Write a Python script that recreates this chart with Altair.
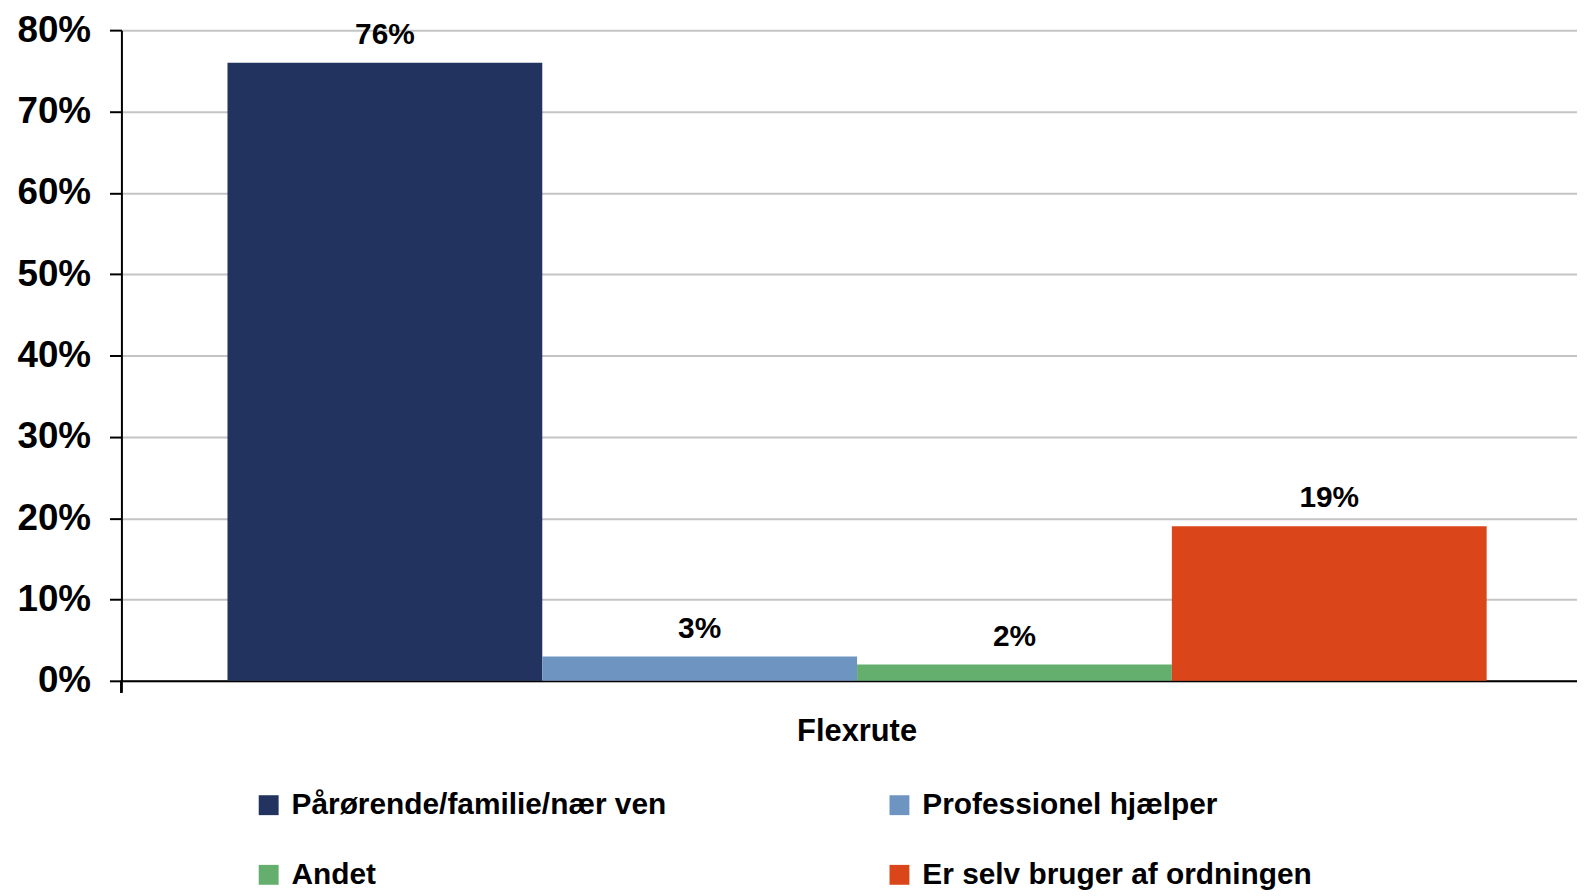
import altair as alt
import pandas as pd

groups = ["Flexrute", "Flexrute", "Flexrute", "Flexrute"]
series = ["Pårørende/familie/nær ven", "Professionel hjælper", "Andet", "Er selv bruger af ordningen"]
values = [0.76, 0.03, 0.02, 0.19]
labels = ["76%", "3%", "2%", "19%"]
colors = ["#21335e", "#6e95c2", "#64ae6e", "#da4619"]
y_ticks = [0, 0.1, 0.2, 0.3, 0.4, 0.5, 0.6, 0.7, 0.8]

df = pd.DataFrame({"group": groups, "series": series, "value": values, "label": labels})

W, H = 1463, 654
FONT = "Liberation Sans"

base = alt.Chart(df).encode(
    x=alt.X("group:N", title=None,
            scale=alt.Scale(paddingInner=0, paddingOuter=0.078, align=0.54),
            axis=alt.Axis(ticks=False, labelAngle=0, labelFont=FONT, labelFontSize=31,
                          labelFontWeight="bold", labelColor="black", labelPadding=36,
                          domainColor="black", domainWidth=2, grid=False)),
    xOffset=alt.XOffset("series:N", sort=series, scale=alt.Scale(paddingInner=0, paddingOuter=0)),
    y=alt.Y("value:Q", title=None, scale=alt.Scale(domain=[0, 0.8], nice=False),
            axis=alt.Axis(format=".0%", values=y_ticks, labelFont=FONT, labelFontSize=37,
                          labelFontWeight="bold", labelColor="black", labelPadding=19,
                          domainColor="black", domainWidth=2, tickColor="black",
                          tickSize=12, tickWidth=2, gridColor="#c4c4c4", gridWidth=2)),
)

bars = base.mark_bar().encode(
    color=alt.Color("series:N", sort=series,
                    scale=alt.Scale(domain=series, range=colors),
                    legend=alt.Legend(title=None, orient="none", legendX=133, legendY=764,
                                      columns=2, direction="horizontal",
                                      columnPadding=219, rowPadding=40,
                                      symbolType="square", symbolSize=400, symbolStrokeWidth=0,
                                      labelFont=FONT, labelFontSize=30, labelFontWeight="bold",
                                      labelColor="black", labelLimit=1000, labelOffset=8,
                                      padding=0))
)

text = base.mark_text(baseline="bottom", dy=-13, fontSize=30, fontWeight="bold",
                      font=FONT, color="black").encode(text="label:N")

corner = alt.Chart(df).mark_rule(color="black", strokeWidth=2).encode(
    x=alt.value(0), y=alt.value(H), y2=alt.value(H + 12))

chart = alt.layer(bars, text, corner).properties(
    width=W, height=H,
    autosize=alt.AutoSizeParams(type="none"),
    padding={"left": 114, "top": 20, "right": 0, "bottom": 208},
).configure_view(stroke=None)

chart.save("out.html", embed_options={"renderer": "svg", "actions": False})
